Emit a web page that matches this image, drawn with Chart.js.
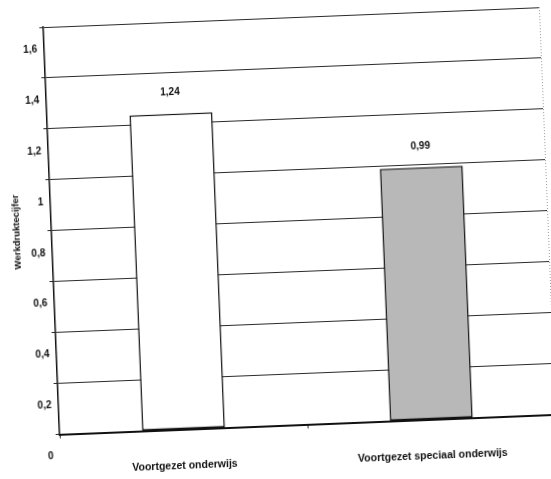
<!DOCTYPE html>
<html>
<head>
<meta charset="utf-8">
<script src="https://cdn.jsdelivr.net/npm/chart.js@4/dist/chart.umd.min.js"></script>
<style>
  html, body { margin: 0; padding: 0; background: #fff; overflow: hidden; }
  #wrap {
    width: 551px; height: 479px;
    transform: rotate(-2.3deg);
    transform-origin: 275.5px 239.5px;
  }
</style>
</head>
<body>
<div id="wrap"><canvas id="werkdruk" width="551" height="479"></canvas></div>
<script>
const categories = ['Voortgezet onderwijs', 'Voortgezet speciaal onderwijs'];
const werkdruk = [1.24, 0.99];
const barColors = ['#ffffff', '#b8b8b8'];
const yTickLabels = ['0', '0,2', '0,4', '0,6', '0,8', '1', '1,2', '1,4', '1,6'];

const fontFamily = '"Liberation Sans", Arial, sans-serif';

// waarde boven elke staaf + gestippelde rechterrand
const valueLabels = {
  id: 'valueLabels',
  beforeDatasetsDraw(chart) {
    const { ctx, chartArea } = chart;
    ctx.save();
    ctx.strokeStyle = '#999';
    ctx.lineWidth = 1;
    ctx.setLineDash([1, 2]);
    ctx.beginPath();
    ctx.moveTo(chartArea.right + 0.5, chartArea.top);
    ctx.lineTo(chartArea.right + 0.5, chartArea.bottom);
    ctx.stroke();
    ctx.restore();
  },
  afterDatasetsDraw(chart) {
    const { ctx } = chart;
    const meta = chart.getDatasetMeta(0);
    ctx.save();
    ctx.font = 'bold 10px ' + fontFamily;
    ctx.fillStyle = '#111';
    ctx.textAlign = 'center';
    ctx.textBaseline = 'middle';
    meta.data.forEach((bar, i) => {
      const v = chart.data.datasets[0].data[i];
      ctx.fillText(v.toFixed(2).replace('.', ','), bar.x, bar.y - 21);
    });
    ctx.restore();
  }
};

new Chart(document.getElementById('werkdruk').getContext('2d'), {
  type: 'bar',
  data: {
    labels: categories,
    datasets: [{
      data: werkdruk,
      backgroundColor: barColors,
      borderColor: '#111',
      borderWidth: 1.5,
      borderSkipped: false,
      barPercentage: 0.335,
      categoryPercentage: 1
    }]
  },
  options: {
    responsive: false,
    animation: false,
    devicePixelRatio: 1,
    layout: { padding: { left: 0, top: 18, right: 3, bottom: 0 } },
    plugins: {
      legend: { display: false },
      tooltip: { enabled: false }
    },
    scales: {
      x: {
        grid: {
          offset: true,
          drawOnChartArea: false,
          drawTicks: true,
          tickLength: 4,
          color: '#222'
        },
        border: { color: '#111', width: 2 },
        ticks: {
          padding: 26,
          color: '#111',
          font: { family: fontFamily, size: 10.5, weight: 'bold' }
        },
        afterFit(scale) { scale.height = 53.5; }
      },
      y: {
        min: 0,
        max: 1.6,
        grid: { color: '#2a2a2a', lineWidth: 1, tickLength: 4 },
        border: { color: '#111', width: 1.5 },
        ticks: {
          stepSize: 0.2,
          labelOffset: 22,
          padding: 3,
          color: '#111',
          font: { family: fontFamily, size: 10, weight: 'bold' },
          callback: (value, index) => yTickLabels[index]
        },
        title: {
          display: true,
          text: 'Werkdruktecijfer',
          color: '#111',
          font: { family: fontFamily, size: 9.5, weight: 'bold' },
          padding: { top: 11.6, bottom: 0 }
        },
        afterFit(scale) { scale.width = 52; }
      }
    }
  },
  plugins: [valueLabels]
});
</script>
</body>
</html>
